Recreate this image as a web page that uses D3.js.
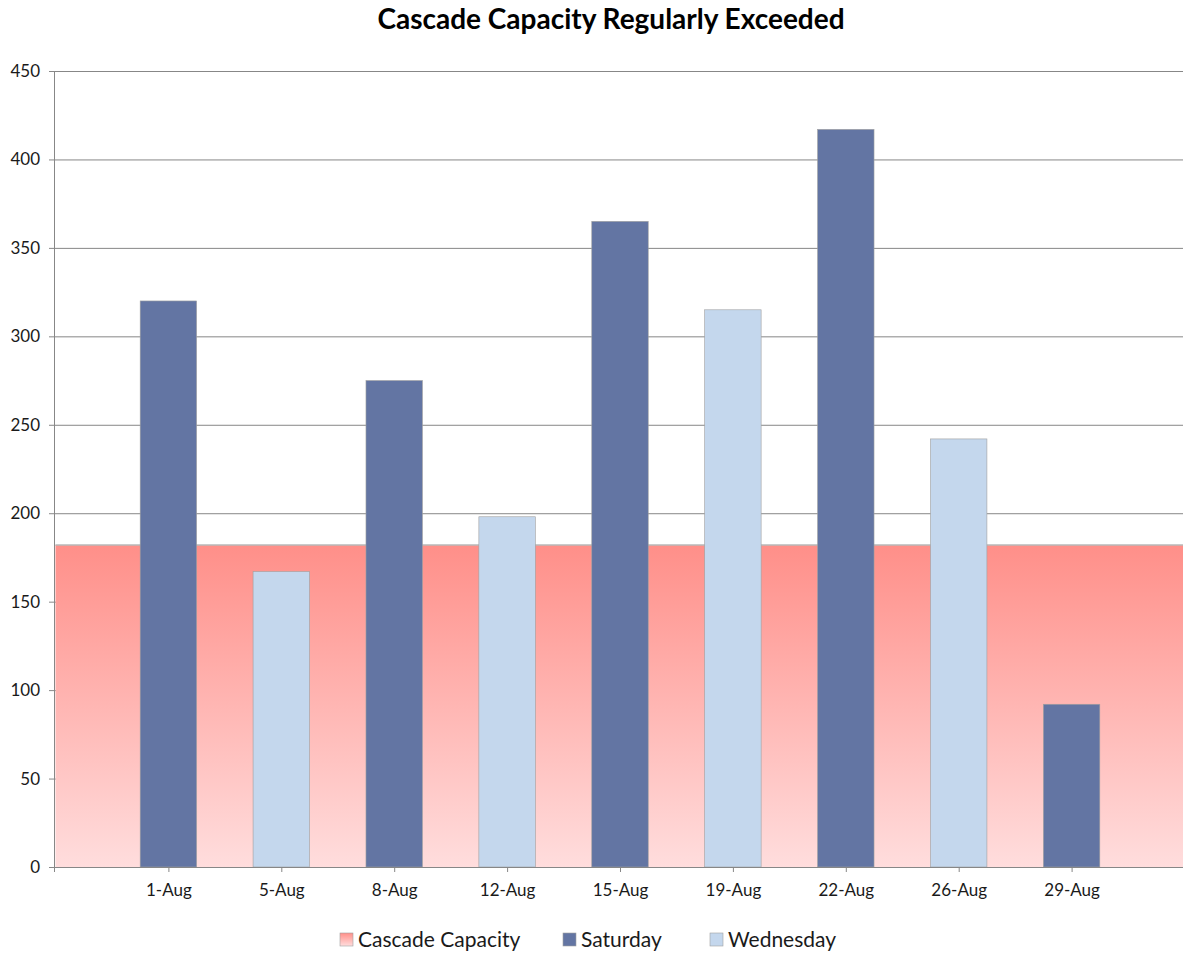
<!DOCTYPE html>
<html>
<head>
<meta charset="utf-8">
<script src="https://cdn.jsdelivr.net/npm/d3@7"></script>
<style>
  html, body { margin: 0; padding: 0; background: #fff; }
  svg text { font-family: Lato, "Open Sans", sans-serif; fill: #1a1a1a; }
</style>
</head>
<body>
<svg id="chart" width="1183" height="953"></svg>
<script>
// Visitor counts by date, split by day of week
const categories = ["1-Aug", "5-Aug", "8-Aug", "12-Aug", "15-Aug", "19-Aug", "22-Aug", "26-Aug", "29-Aug"];
const dayType    = ["Saturday", "Wednesday", "Saturday", "Wednesday", "Saturday", "Wednesday", "Saturday", "Wednesday", "Saturday"];
const visitors   = [320, 167, 275, 198, 365, 315, 417, 242, 92];
const capacity   = 182;
const yTicks     = [0, 50, 100, 150, 200, 250, 300, 350, 400, 450];
const seriesNames = ["Cascade Capacity", "Saturday", "Wednesday"];

const colors = { Saturday: "#6375a3", Wednesday: "#c4d7ed" };

const svg = d3.select("#chart");
const plotLeft = 54, plotRight = 1184, plotTop = 71, plotBottom = 867;

// Positions 0..10 along the category axis; dates sit at 1..9
const x = d3.scaleLinear().domain([0, categories.length + 1]).range([plotLeft + 1.5, plotRight + 0.5]);
const y = d3.scaleLinear().domain([0, 450]).range([plotBottom, plotTop]);
const step = x(1) - x(0);
const barW = step * 0.5;

const defs = svg.append("defs");
["capGrad", "legGrad"].forEach(id => {
  const g = defs.append("linearGradient").attr("id", id)
    .attr("x1", 0).attr("y1", 0).attr("x2", 0).attr("y2", 1);
  g.append("stop").attr("offset", "0%").attr("stop-color", "#ff8f89");
  g.append("stop").attr("offset", "100%").attr("stop-color", "#ffdddd");
});

// Title
svg.append("text").attr("x", 611).attr("y", 29)
  .attr("text-anchor", "middle").attr("font-size", 28).attr("font-weight", "bold")
  .style("fill", "#000")
  .text("Cascade Capacity Regularly Exceeded");

// Horizontal gridlines
svg.append("g").selectAll("line").data(yTicks.filter(d => d > 0)).join("line")
  .attr("x1", plotLeft).attr("x2", plotRight)
  .attr("y1", d => y(d) + 0.5).attr("y2", d => y(d) + 0.5)
  .attr("stroke", "#878787").attr("stroke-width", 1);

// Capacity band across the whole category axis
const capData = d3.range(0, categories.length + 2).map(i => ({ i, v: capacity }));
svg.append("path").datum(capData)
  .attr("d", d3.area().x(d => Math.max(plotLeft, x(d.i))).y0(y(0)).y1(d => y(d.v)))
  .attr("fill", "url(#capGrad)");
svg.append("path").datum(capData)
  .attr("d", d3.line().x(d => Math.max(plotLeft, x(d.i))).y(d => y(d.v)))
  .attr("fill", "none").attr("stroke", "#b8b8b8").attr("stroke-width", 1.5);

// Bars
svg.append("g").selectAll("rect").data(visitors).join("rect")
  .attr("x", (d, i) => x(i + 1) - barW / 2)
  .attr("width", barW)
  .attr("y", d => y(d))
  .attr("height", d => y(0) - y(d))
  .attr("fill", (d, i) => colors[dayType[i]])
  .attr("stroke", "#a0a0a0").attr("stroke-width", 0.6);

// Y axis
const yAxis = svg.append("g").attr("transform", `translate(${plotLeft},0)`)
  .call(d3.axisLeft(y).tickValues(yTicks).tickSize(5).tickPadding(9).tickFormat(d3.format("d")));
yAxis.select(".domain").attr("stroke", "#878787");
yAxis.selectAll(".tick line").attr("stroke", "#878787");
yAxis.selectAll("text").attr("font-size", 17).style("font-family", "Lato, sans-serif").attr("fill", "#1a1a1a");

// X axis
const xAxis = svg.append("g").attr("transform", `translate(0,${plotBottom})`)
  .call(d3.axisBottom(x).tickValues(d3.range(1, categories.length + 1)).tickSize(5).tickPadding(12)
    .tickFormat(i => categories[i - 1]));
xAxis.select(".domain").attr("stroke", "#878787").attr("d", `M${plotLeft},0.5H${plotRight}`);
xAxis.selectAll(".tick line").attr("stroke", "#878787");
xAxis.selectAll("text").attr("font-size", 17).style("font-family", "Lato, sans-serif").attr("fill", "#1a1a1a");
xAxis.append("line").attr("x1", plotLeft + 0.5).attr("x2", plotLeft + 0.5).attr("y1", 0).attr("y2", 5)
  .attr("stroke", "#878787");

// Legend
const legend = svg.append("g");
const legendX = [340, 563, 710];
const swatchFill = ["url(#legGrad)", colors.Saturday, colors.Wednesday];
seriesNames.forEach((name, k) => {
  legend.append("rect").attr("x", legendX[k]).attr("y", 933).attr("width", 13).attr("height", 13)
    .attr("fill", swatchFill[k]).attr("stroke", "#a0a0a0").attr("stroke-width", 0.6);
  legend.append("text").attr("x", legendX[k] + 18).attr("y", 947)
    .attr("font-size", 21).text(name);
});
</script>
</body>
</html>
